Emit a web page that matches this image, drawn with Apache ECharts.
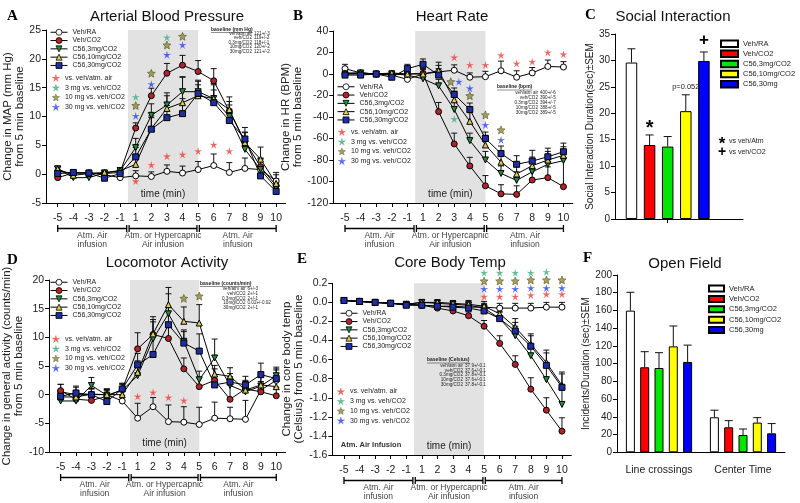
<!DOCTYPE html>
<html><head><meta charset="utf-8">
<script src="https://cdn.jsdelivr.net/npm/echarts@6/dist/echarts.min.js"></script>
<style>html,body{margin:0;padding:0;background:#fff}#c{width:800px;height:503px}</style>
</head><body><div id="c"></div>
<script>
// ---------------- DATA ----------------
const xLabels = ['-5','-4','-3','-2','-1','1','2','3','4','5','6','7','8','9','10'];
const lineGroups = ['Veh/RA','Veh/CO2','C56,3mg/CO2','C56,10mg/CO2','C56,30mg/CO2'];
const starGroups = ['vs. veh/atm. air','3 mg vs. veh/CO2','10 mg vs. veh/CO2','30 mg vs. veh/CO2'];
const phaseLabels = ['Atm. Air\ninfusion','Atm. or Hypercapnic\nAir infusion','Atm. Air\ninfusion'];
const baselineLabels = ['veh/atm air','veh/CO2','0.3mg/CO2','10mg/CO2','30mg/CO2'];

// A: Arterial Blood Pressure
const A_vehRA  = [0.5,0.2,0.2,-0.1,-0.6, -0.3,-0.4,0.5,0.2,0.8, 1.5,0.3,1.0,0.8,-1.2];
const A_vehCO2 = [-0.6,0.2,0.2,0.1,0.3, 8.0,13.6,17.5,18.9,17.8, 16.2,10.9,5.7,1.3,-2.0];
const A_c3     = [0.9,-0.6,-0.6,0.2,0.6, 4.6,10.2,12.0,14.3,14.3, 13.1,10.0,4.3,0.8,-2.4];
const A_c10    = [0.9,-0.2,0.1,0.3,0.6, 1.7,7.9,11.4,12.4,13.6, 13.1,11.2,5.5,2.6,-1.6];
const A_c30    = [0.1,0.3,0.2,-0.7,0.1, 3.0,7.8,9.8,10.5,14.0, 12.4,9.3,6.1,-0.3,-3.0];
const A_errRA  = [0.6,0.5,0.5,0.6,0.5, 0.9,0.8,1.1,1.2,1.4, 2.0,1.7,1.8,2.0,1.5];
const A_errCO2 = [0.5,0.4,0.4,0.4,0.5, 0.9,1.3,1.7,1.7,1.9, 2.1,1.7,1.5,1.4,1.2];
const A_err3   = [0.5,0.4,0.4,0.4,0.5, 1.6,2.0,2.1,2.6,2.0, 2.4,2.0,2.0,1.8,1.5];
const A_err10  = [0.5,0.4,0.4,0.4,0.5, 1.5,2.2,2.2,4.4,1.9, 2.6,2.2,1.8,2.1,1.5];
const A_err30  = [0.5,0.4,0.4,0.4,0.5, 1.6,2.0,2.1,2.6,2.1, 2.2,2.0,2.0,1.8,1.5];
const A_starRed   = [[1,-1.2],[2,1.6],[3,3.1],[4,3.4],[5,4.0],[6,5.1],[7,4.0]];
const A_starTeal  = [[1,13.4],[3,23.7]];
const A_starOlive = [[1,11.9],[2,17.5],[3,22.4],[4,23.9]];
const A_starBlue  = [[1,10.1],[2,15.6],[3,20.7],[4,22.4]];
const A_baselineVals = ['121+/-3','119+/-2','118+/-1','120+/-2','121+/-2'];

// B: Heart Rate
const B_vehRA  = [5,1,0,-1,-5, 0,2,3.5,-3,-2.5, 3,-3,1,7,6.5];
const B_vehCO2 = [0,0,0,0,0, 0.5,-35,-65,-85.5,-104, -111.5,-112,-98.6,-96.4,-104.8];
const B_c3     = [0,1,0,0,-1, -4.5,-11,-33,-62,-80, -92.5,-99,-91,-84,-80.6];
const B_c10    = [1,1,0,1,0, 0,3,-24,-44,-66, -82,-93,-85.3,-80,-75.7];
const B_c30    = [-1,-1,0,-3,5, 9,-1,-19,-33,-60, -74,-84,-81,-77,-72.3];
const B_errRA  = [4,2,2,2,2, 5,6,5,4,5, 9,6,5,6,5];
const B_errCO2 = [2,2,2,2,2, 4,8.5,10,8,9.5, 8.5,8,10,10,26];
const B_err3   = [2,2,2,2,2, 3,6,7,7,8, 7,8,8,8,8];
const B_err10  = [2,2,2,2,2, 4,8,8,8,9, 8,8,8,8,8];
const B_err30  = [2,2,2,2,4, 5,6,6,6,6, 7,8,10,8,8];
const B_starRed   = [[3,15.5],[4,8.4],[5,8.4],[6,17.5],[7,9.9],[8,11.4],[9,20],[10,18.3]];
const B_starTeal  = [[3,-41.9]];
const B_starOlive = [[2.78,-7.2],[4,-20.2],[5,-38],[6,-52]];
const B_starBlue  = [[3.3,-7.2],[4,-13.3],[5,-47.4],[6,-61.4]];
const B_baselineVals = ['400+/-6','390+/-5','394+/-7','388+/-5','389+/-5'];

// C: Social Interaction
const barGroups = ['Veh/RA','Veh/CO2','C56,3mg/CO2','C56,10mg/CO2','C56,30mg'];
const C_vals = [29.6,14.0,13.7,20.4,29.9];
const C_errs = [2.6,1.9,1.9,3.1,1.7];
const C_notes = [['*',1,17.8],['p=0.052',3,24.9],['+',4,33.8]];
const C_sigLegend = [['*','vs veh/Atm'],['+','vs veh/CO2']];

// D: Locomotor Activity
const D_vehRA  = [0.5,0,0,0,-1.1, -4.1,-2.1,-4.7,-4.8,-5.2, -4.1,-4.2,-4.3,0.8,2.5];
const D_vehCO2 = [0.7,-0.8,-1.0,-0.3,0.9, 8.0,10.5,9.8,4.5,1.4, 2.5,-0.8,1.0,0.5,-0.2];
const D_c3     = [-1.1,-1.1,1.6,-0.1,0.8, 3.3,9.7,14.1,9.3,2.6, 6.4,1.6,0.5,1.5,3.3];
const D_c10    = [-0.4,-0.4,0.1,0.0,0.0, 3.9,10.6,15.7,12.8,12.5, 3.6,3.2,0.8,1.7,1.4];
const D_c30    = [-0.3,0.3,0.0,-1.2,1.0, 5.2,7.0,12.2,9.0,7.6, 1.7,2.2,1.7,3.5,2.8];
const D_errRA  = [1.3,1.5,1.0,1.0,1.0, 2.6,1.6,2.9,2.7,3.0, 2.8,2.0,3.3,1.5,2.0];
const D_errCO2 = [1.1,1.0,1.0,1.0,1.0, 2.8,2.6,2.0,1.9,1.5, 2.0,3.9,1.5,1.5,1.5];
const D_err3   = [1.0,1.0,1.4,1.0,1.0, 1.5,3.0,3.5,2.0,1.5, 3.3,1.5,1.5,1.5,1.5];
const D_err10  = [1.0,1.0,1.0,1.0,1.0, 2.0,3.0,3.0,2.5,3.2, 1.5,1.5,1.5,1.5,1.5];
const D_err30  = [1.0,1.0,1.0,1.0,1.0, 2.0,3.5,3.0,2.0,3.0, 1.5,1.5,1.5,2.0,1.5];
const D_starRed   = [[1,-0.3],[2,0.4],[3,-0.5],[4,-1.0]];
const D_starOlive = [[4,16.8],[5,17.2]];
const D_baselineVals = ['6+/-3','2+/-1','2+/-1','0.02+/-0.02','2+/-1'];

// E: Core Body Temp
const E_vehRA  = [0.02,0.01,0.0,-0.01,-0.02, -0.03,-0.04,-0.04,-0.05,-0.05, -0.06,-0.06,-0.06,-0.05,-0.05];
const E_vehCO2 = [0.02,0.01,0.0,-0.01,-0.02, -0.03,-0.06,-0.09,-0.14,-0.25, -0.43,-0.65,-0.91,-1.13,-1.35];
const E_c3     = [0.02,0.01,0.0,-0.01,-0.02, 0.0,-0.01,-0.02,-0.03,-0.06, -0.17,-0.35,-0.56,-0.81,-1.07];
const E_c10    = [0.02,0.01,0.0,-0.01,-0.02, 0.0,0.0,-0.01,-0.02,-0.04, -0.12,-0.26,-0.44,-0.63,-0.87];
const E_c30    = [0.02,0.01,0.0,-0.01,-0.03, -0.03,-0.04,-0.05,-0.06,-0.09, -0.17,-0.30,-0.46,-0.66,-0.89];
const E_errRA  = [0.02,0.02,0.02,0.02,0.02, 0.02,0.03,0.03,0.03,0.03, 0.05,0.05,0.05,0.05,0.05];
const E_errCO2 = [0.02,0.02,0.02,0.02,0.02, 0.02,0.03,0.03,0.04,0.06, 0.08,0.09,0.12,0.13,0.14];
const E_err3   = [0.02,0.02,0.02,0.02,0.02, 0.02,0.03,0.03,0.04,0.05, 0.07,0.10,0.12,0.14,0.15];
const E_err10  = [0.02,0.02,0.02,0.02,0.02, 0.02,0.03,0.03,0.04,0.05, 0.07,0.09,0.11,0.13,0.14];
const E_err30  = [0.02,0.02,0.02,0.02,0.02, 0.02,0.03,0.03,0.04,0.05, 0.07,0.09,0.11,0.13,0.14];
const E_starRed   = [[5,0.06],[6,0.06],[7,0.06],[8,0.075],[9,0.085],[10,0.085]];
const E_starTeal  = [[5,0.31],[6,0.31],[7,0.31],[8,0.31],[9,0.32]];
const E_starOlive = [[5,0.225],[6,0.225],[7,0.225],[8,0.235],[9,0.235],[10,0.235]];
const E_starBlue  = [[5,0.14],[6,0.14],[7,0.14],[8,0.15],[9,0.15],[10,0.15]];
const E_baselineVals = ['37.9+/-0.1','37.6+/-0.1','37.8+/-0.1','37.6+/-0.1','37.8+/-0.1'];

// F: Open Field
const F_cats = ['Line crossings','Center Time'];
const F_vals = [[159.8,39.5],[95.9,28.2],[95.1,19.5],[119.5,33.5],[101.9,21.4]];
const F_errs = [[20.7,8.0],[17.6,7.5],[17.3,6.8],[23.0,5.6],[19.0,11.0]];

// ---------------- STYLE / BUILD ----------------
const FONT = '"Liberation Sans", Arial, Helvetica, sans-serif';
const SERIF = '"Liberation Serif", "DejaVu Serif", serif';
const TXT = '#222';
const chart = echarts.init(document.getElementById('c'), null, {width: 800, height: 503});

const idxs = xLabels.map((_, i) => i);
const tIdx = t => (t < 0 ? t + 5 : t + 4);   // minute -> axis slot (there is no minute 0)
const shadeFrom = (tIdx(-1) + tIdx(1)) / 2;
const shadeTo = tIdx(5);

function starPath(inner) {
  let d = 'path://';
  for (let k = 0; k < 10; k++) {
    const a = (-90 + k * 36) * Math.PI / 180;
    const r = k % 2 ? inner : 10;
    d += (k ? 'L' : 'M') + (r * Math.cos(a)).toFixed(2) + ',' + (r * Math.sin(a)).toFixed(2) + ' ';
  }
  return d + 'Z';
}
const STAR_THIN = starPath(3.2), STAR_FAT = starPath(4.6);
const lineStyles = [
  {symbol: 'circle', color: '#ffffff'},
  {symbol: 'circle', color: '#b3232b'},
  {symbol: 'triangle', rotate: 180, color: '#1f8f3a'},
  {symbol: 'triangle', color: '#dccf4c'},
  {symbol: 'rect', color: '#1d2ea6'}
];
const starStyles = [
  {color: '#f23a32', path: STAR_THIN},
  {color: '#3aae7c', path: STAR_THIN},
  {color: '#8c8a34', border: '#3d3a10', path: STAR_FAT},
  {color: '#2a3ef2', path: STAR_THIN}
];
const barColors = ['#ffffff', '#ff0000', '#00e600', '#ffff00', '#0000ff'];

const grids = [], xAxes = [], yAxes = [], series = [], legends = [], G = [];

function txt(x, y, text, o = {}) {
  G.push({type: 'text', x, y, silent: true, z: 20, style: {
    text, fill: o.color || TXT, fontSize: o.size || 10, fontFamily: o.family || FONT,
    fontWeight: o.weight || 'normal', align: o.align || 'left', textAlign: o.align || 'left',
    verticalAlign: o.valign || 'middle', textVerticalAlign: o.valign || 'middle', lineHeight: o.lh}});
}
function seg(x1, y1, x2, y2, w = 1, c = '#000') {
  G.push({type: 'line', silent: true, z: 20, shape: {x1, y1, x2, y2}, style: {stroke: c, lineWidth: w}});
}
const measureCtx = document.createElement('canvas').getContext('2d');
function textWidth(s, size, weight) { measureCtx.font = (weight || '') + ' ' + size + 'px ' + FONT; return measureCtx.measureText(s).width; }

function errRender(params, api) {
  const x = api.value(0), y = api.value(1), e = api.value(2);
  const a = api.coord([x, y]), b = api.coord([x, y + e]);
  return {type: 'group', children: [
    {type: 'line', shape: {x1: a[0], y1: a[1], x2: b[0], y2: b[1]}, style: {stroke: '#111', lineWidth: 1}},
    {type: 'line', shape: {x1: b[0] - 3, y1: b[1], x2: b[0] + 3, y2: b[1]}, style: {stroke: '#111', lineWidth: 1}}
  ]};
}

const panels = [];
function linePanel(P) {
  const gi = grids.length; P.gi = gi; panels.push(P);
  grids.push({left: P.left, top: P.top, width: P.width, height: P.height});
  xAxes.push({gridIndex: gi, type: 'value', min: -0.75, max: 14.6,
    axisLine: {onZero: false, lineStyle: {color: '#000', width: 1}},
    axisTick: {show: true, customValues: idxs, length: 4, lineStyle: {color: '#000'}},
    axisLabel: {customValues: idxs, formatter: v => xLabels[Math.round(v)], fontSize: 10.5, color: TXT, fontFamily: FONT, margin: 10},
    splitLine: {show: false}});
  yAxes.push({gridIndex: gi, type: 'value', min: P.ymin, max: P.ymax, interval: P.yint,
    name: P.yname, nameLocation: 'middle', nameRotate: 90, nameGap: P.nameGap,
    nameTextStyle: {fontSize: 11.5, lineHeight: 12, color: TXT, fontFamily: FONT},
    axisLine: {show: true, onZero: false, lineStyle: {color: '#000'}},
    axisTick: {show: true, length: 4, lineStyle: {color: '#000'}},
    axisLabel: {fontSize: 10.5, color: TXT, fontFamily: FONT, margin: 5, formatter: P.yfmt},
    splitLine: {show: false}});
  series.push({type: 'line', xAxisIndex: gi, yAxisIndex: gi, data: [], silent: true, z: 0,
    markArea: {silent: true, itemStyle: {color: '#e2e2e2'},
      label: {show: true, position: 'insideBottom', distance: 4, color: TXT, fontSize: 10, fontFamily: FONT, formatter: 'time (min)'},
      data: [[{xAxis: shadeFrom}, {xAxis: shadeTo}]]}});
  P.values.forEach((vals, k) => {
    const st = lineStyles[k];
    series.push({type: 'custom', xAxisIndex: gi, yAxisIndex: gi, silent: true, z: 2,
      data: vals.map((v, i) => [i, v, P.errs[k][i]]), renderItem: errRender, encode: {x: 0, y: 1}});
    series.push({type: 'line', name: lineGroups[k], xAxisIndex: gi, yAxisIndex: gi, silent: true, z: 3,
      data: vals.map((v, i) => [i, v]), symbol: st.symbol, symbolRotate: st.rotate || 0, symbolSize: 6, showAllSymbol: true,
      itemStyle: {color: st.color, borderColor: '#000', borderWidth: 1}, lineStyle: {color: '#000', width: 1}});
  });
  P.stars.forEach((pts, k) => {
    if (!pts) return;
    const s = starStyles[k];
    series.push({type: 'scatter', name: starGroups[k], xAxisIndex: gi, yAxisIndex: gi, silent: true, z: 5, clip: false,
      data: pts.map(p => [tIdx(p[0]), p[1]]), symbol: s.path, symbolSize: 8,
      itemStyle: {color: s.color, borderColor: s.border || s.color, borderWidth: s.border ? 0.6 : 0}});
  });
  legends.push({data: lineGroups, orient: 'vertical', left: P.legLeft, top: P.legTop, itemWidth: 17, itemHeight: 7.5,
    itemGap: 0.8, padding: 0, selectedMode: false, lineStyle: {width: 1, color: '#000'}, itemStyle: {borderWidth: 0.8},
    textStyle: {fontSize: 7, lineHeight: 7.5, color: TXT, fontFamily: FONT}});
  legends.push({data: starGroups, orient: 'vertical', left: P.starLeft, top: P.starTop, itemWidth: 8, itemHeight: 7,
    itemGap: 1.7, padding: 0, selectedMode: false, itemStyle: {borderWidth: 0.4},
    textStyle: {fontSize: 7, lineHeight: 8, color: TXT, fontFamily: FONT}});
}

linePanel({left: 46, top: 30, width: 239.5, height: 173, ymin: -5, ymax: 25, yint: 5,
  yname: 'Change in MAP (mm Hg)\nfrom 5 min baseline', nameGap: 17,
  values: [A_vehRA, A_vehCO2, A_c3, A_c10, A_c30], errs: [A_errRA, A_errCO2, A_err3, A_err10, A_err30],
  stars: [A_starRed, A_starTeal, A_starOlive, A_starBlue], legLeft: 50, legTop: 28.5, starLeft: 52, starTop: 74,
  letter: ['A', 7, 16], title: ['Arterial Blood Pressure', 167, 16.5],
  base: ['baseline (mm Hg)', 211, 29.5, 252, 33.8, 4.4, A_baselineVals]});
linePanel({left: 333.3, top: 31, width: 239.5, height: 172, ymin: -120, ymax: 40, yint: 20,
  yname: 'Change in HR (BPM)\nfrom 5 min baseline', nameGap: 20,
  values: [B_vehRA, B_vehCO2, B_c3, B_c10, B_c30], errs: [B_errRA, B_errCO2, B_err3, B_err10, B_err30],
  stars: [B_starRed, B_starTeal, B_starOlive, B_starBlue], legLeft: 337, legTop: 83, starLeft: 338, starTop: 128,
  letter: ['B', 293, 16], title: ['Heart Rate', 452, 16.5],
  base: ['baseline (bpm)', 497, 87, 538, 92.8, 4.9, B_baselineVals]});
linePanel({left: 46, top: 280, width: 239.5, height: 172, ymin: -10, ymax: 20, yint: 5,
  yname: 'Change in general activity (counts/min)\nfrom 5 min baseline', nameGap: 13.5,
  values: [D_vehRA, D_vehCO2, D_c3, D_c10, D_c30], errs: [D_errRA, D_errCO2, D_err3, D_err10, D_err30],
  stars: [D_starRed, null, D_starOlive, null], legLeft: 50, legTop: 278.5, starLeft: 52, starTop: 335,
  letter: ['D', 7, 260], title: ['Locomotor Activity', 167, 263],
  base: ['baseline (counts/min)', 200, 283.5, 245.5, 289, 4.7, D_baselineVals]});
linePanel({left: 332.3, top: 283.3, width: 239, height: 171.7, ymin: -1.6, ymax: 0.2, yint: 0.2,
  yname: 'Change in core body temp\n(Celsius) from 5 min baseline', nameGap: 20.5, yfmt: v => v.toFixed(1),
  values: [E_vehRA, E_vehCO2, E_c3, E_c10, E_c30], errs: [E_errRA, E_errCO2, E_err3, E_err10, E_err30],
  stars: [E_starRed, E_starTeal, E_starOlive, E_starBlue], legLeft: 340, legTop: 309.5, starLeft: 337, starTop: 387.5,
  letter: ['E', 297, 259], title: ['Core Body Temp', 450, 263],
  base: ['baseline (Celsius)', 427, 360, 463, 366, 4.6, E_baselineVals], extra: ['Atm. Air Infusion', 371, 445]});

// ---- C: bars on a value axis (one slot per group) ----
const giC = grids.length;
grids.push({left: 615, top: 34, width: 128, height: 185});
xAxes.push({gridIndex: giC, type: 'value', min: -0.91, max: 6.16,
  axisLine: {onZero: false, lineStyle: {color: '#000'}}, axisTick: {show: true, customValues: [2], length: 4, lineStyle: {color: '#000'}},
  axisLabel: {show: false}, splitLine: {show: false}});
yAxes.push({gridIndex: giC, type: 'value', min: 0, max: 35, interval: 5,
  name: 'Social Interaction Duration(sec)±SEM', nameLocation: 'middle', nameRotate: 90, nameGap: 20,
  nameTextStyle: {fontSize: 10, color: TXT, fontFamily: FONT},
  axisLine: {show: true, onZero: false, lineStyle: {color: '#000'}}, axisTick: {show: true, length: 4, lineStyle: {color: '#000'}},
  axisLabel: {fontSize: 10, color: TXT, fontFamily: FONT, margin: 5}, splitLine: {show: false}});
barGroups.forEach((g, k) => {
  series.push({type: 'bar', name: g + '#C', xAxisIndex: giC, yAxisIndex: giC, silent: true, barWidth: 11.5, barGap: '-100%', z: 2,
    data: [[k, C_vals[k]]], itemStyle: {color: barColors[k], borderColor: '#000', borderWidth: 1}});
});
series.push({type: 'custom', xAxisIndex: giC, yAxisIndex: giC, silent: true, z: 1, encode: {x: 0, y: 1},
  data: C_vals.map((v, k) => [k, v, C_errs[k]]),
  renderItem: (p, api) => {
    const x = api.value(0), y = api.value(1), e = api.value(2);
    const a = api.coord([x, y]), b = api.coord([x, y + e]);
    return {type: 'group', children: [
      {type: 'line', shape: {x1: a[0], y1: a[1], x2: b[0], y2: b[1]}, style: {stroke: '#111', lineWidth: 1}},
      {type: 'line', shape: {x1: b[0] - 4, y1: b[1], x2: b[0] + 4, y2: b[1]}, style: {stroke: '#111', lineWidth: 1}}]};
  }});
legends.push({data: barGroups.map(g => g + '#C'), orient: 'vertical', left: 720, top: 39.5, itemWidth: 17, itemHeight: 6.5, itemGap: 1.6,
  padding: 0, selectedMode: false, icon: 'rect', formatter: n => n.replace(/#.*/, ''),
  textStyle: {fontSize: 7.5, lineHeight: 7.5, color: TXT, fontFamily: FONT}});

// ---- F: grouped bars ----
const giF = grids.length;
const F_bw = 9, F_gap = 0.59;
grids.push({left: 617, top: 275, width: 168, height: 177.3});
xAxes.push({gridIndex: giF, type: 'category', data: F_cats,
  axisLine: {onZero: false, lineStyle: {color: '#000'}}, axisTick: {show: false},
  axisLabel: {interval: 0, hideOverlap: false, fontSize: 10.5, color: TXT, fontFamily: FONT, margin: 12}, splitLine: {show: false}});
yAxes.push({gridIndex: giF, type: 'value', min: 0, max: 200, interval: 20,
  name: 'Incidents/Duration (sec)±SEM', nameLocation: 'middle', nameRotate: 90, nameGap: 24,
  nameTextStyle: {fontSize: 10, color: TXT, fontFamily: FONT},
  axisLine: {show: true, onZero: false, lineStyle: {color: '#000'}}, axisTick: {show: true, length: 4, lineStyle: {color: '#000'}},
  axisLabel: {fontSize: 10, color: TXT, fontFamily: FONT, margin: 5}, splitLine: {show: false}});
barGroups.forEach((g, k) => {
  series.push({type: 'bar', name: g + '#F', xAxisIndex: giF, yAxisIndex: giF, silent: true, barWidth: F_bw, barGap: (F_gap * 100) + '%', z: 2,
    data: F_vals[k], itemStyle: {color: barColors[k], borderColor: '#000', borderWidth: 1}});
});
const F_errData = [];
F_vals.forEach((vs, k) => vs.forEach((v, c) => F_errData.push([c, v, F_errs[k][c], k])));
series.push({type: 'custom', xAxisIndex: giF, yAxisIndex: giF, silent: true, z: 1, encode: {x: 0, y: 1}, data: F_errData,
  renderItem: (p, api) => {
    const c = api.value(0), y = api.value(1), e = api.value(2), k = api.value(3);
    const off = (k - 2) * F_bw * (1 + F_gap);
    const a = api.coord([c, y]), b = api.coord([c, y + e]);
    const x = a[0] + off;
    return {type: 'group', children: [
      {type: 'line', shape: {x1: x, y1: a[1], x2: x, y2: b[1]}, style: {stroke: '#111', lineWidth: 1}},
      {type: 'line', shape: {x1: x - 4, y1: b[1], x2: x + 4, y2: b[1]}, style: {stroke: '#111', lineWidth: 1}}]};
  }});
legends.push({data: barGroups.map(g => g + '#F'), orient: 'vertical', left: 708, top: 284.5, itemWidth: 15, itemHeight: 6, itemGap: 2.4,
  padding: 0, selectedMode: false, icon: 'rect', formatter: n => n.replace(/#.*/, ''),
  textStyle: {fontSize: 7.5, lineHeight: 6.5, color: TXT, fontFamily: FONT}});

chart.setOption({animation: false, backgroundColor: '#fff', grid: grids, xAxis: xAxes, yAxis: yAxes, series, legend: legends});

// ---------------- DECORATION (after layout) ----------------
panels.forEach(P => {
  const gi = P.gi, bottom = P.top + P.height;
  const X = v => chart.convertToPixel({xAxisIndex: gi}, v);
  const xs = X(0), xb1 = X(shadeFrom), xb2 = X(shadeTo), xe = X(14);
  const by = bottom + 25.5;
  [[xs, xb1 - 1.2], [xb1 + 1.2, xb2 - 1.2], [xb2 + 1.2, xe]].forEach(([a, b], k) => {
    seg(a, by, b, by, 1.3);
    seg(a, by - 3.5, a, by + 3.5, 1.3);
    seg(b, by - 3.5, b, by + 3.5, 1.3);
    txt((a + b) / 2, by + 2.5, phaseLabels[k], {size: 8.5, align: 'center', valign: 'top', lh: 9, color: '#444'});
  });
  txt(P.letter[1], P.letter[2], P.letter[0], {size: 15, family: SERIF, weight: 'bold', color: '#000'});
  txt(P.title[1], P.title[2], P.title[0], {size: 15, align: 'center', color: '#111'});
  const [bt, bx, byy, col, r0, step, vals] = P.base;
  txt(bx, byy, bt, {size: 5, weight: 'bold'});
  seg(bx, byy + 3, bx + textWidth(bt, 5, 'bold'), byy + 3, 0.5, '#222');
  baselineLabels.forEach((l, i) => {
    txt(col, r0 + i * step, l, {size: 4.6, align: 'right'});
    txt(col + 2, r0 + i * step, vals[i], {size: 4.6});
  });
  if (P.extra) txt(P.extra[1], P.extra[2], P.extra[0], {size: 7.5, align: 'center', weight: 'bold', color: '#333'});
});

// C panel texts
txt(585, 15, 'C', {size: 15, family: SERIF, weight: 'bold', color: '#000'});
txt(673, 16.5, 'Social Interaction', {size: 15, align: 'center', color: '#111'});
C_notes.forEach(([t, k, y]) => {
  const p = chart.convertToPixel({gridIndex: giC}, [k, y]);
  if (t.length > 1) txt(p[0], p[1], t, {size: 7.5, align: 'center'});
  else txt(p[0], p[1] + (t === '*' ? 4 : 0), t, {size: t === '*' ? 20 : 17, align: 'center', weight: 'bold', color: '#000'});
});
C_sigLegend.forEach(([s, t], i) => {
  const y = 141 + i * 11.5;
  txt(722, y + (s === '*' ? 3 : 0), s, {size: s === '*' ? 17 : 14, align: 'center', weight: 'bold', color: '#000'});
  txt(729, y, t, {size: 7, color: TXT});
});
// F panel texts
txt(583, 258, 'F', {size: 15, family: SERIF, weight: 'bold', color: '#000'});
txt(685, 264, 'Open Field', {size: 15, align: 'center', color: '#111'});

chart.setOption({graphic: {elements: G}});
</script>
</body></html>
